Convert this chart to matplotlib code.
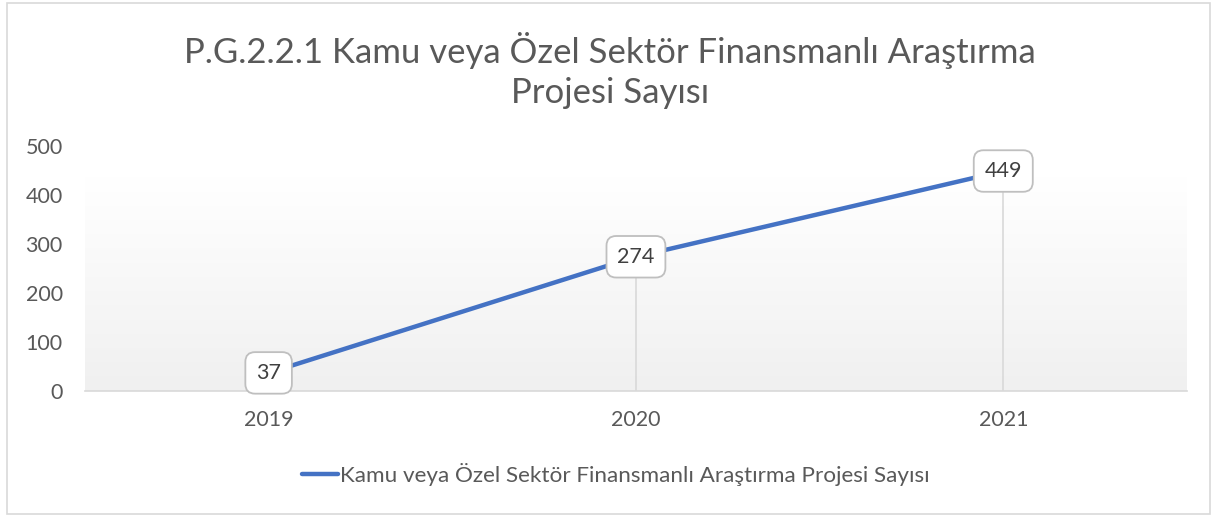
import numpy as np
import matplotlib.pyplot as plt
from matplotlib.colors import LinearSegmentedColormap
from matplotlib.patches import Rectangle

years = ["2019", "2020", "2021"]
values = [37, 274, 449]
y_ticks = [0, 100, 200, 300, 400, 500]
title = "P.G.2.2.1 Kamu veya Özel Sektör Finansmanlı Araştırma\nProjesi Sayısı"
series_name = "Kamu veya Özel Sektör Finansmanlı Araştırma Projesi Sayısı"

plt.rcParams['font.family'] = ['Lato', 'DejaVu Sans']
text_gray = '#595959'
line_blue = '#4472C4'

fig = plt.figure(figsize=(12.17, 5.16), dpi=100)
fig.patches.append(Rectangle((0.006, 0.004), 0.988, 0.99, transform=fig.transFigure,
                             fill=False, edgecolor='#d9d9d9', linewidth=1.2))

ax = fig.add_axes([0.0698, 0.2422, 0.9055, 0.4748])
x = np.arange(len(years))
ax.set_xlim(-0.5, len(years) - 0.5)
ax.set_ylim(0, 500)

# gradient background: light gray at the bottom fading to white at the top
grad = np.linspace(0.0, 1.0, 256).reshape(-1, 1)
cmap = LinearSegmentedColormap.from_list('g', ['#f0f0f0', '#ffffff'])
ax.imshow(grad, extent=(-0.5, len(years) - 0.5, 0, 435), aspect='auto',
          cmap=cmap, origin='lower', zorder=0)

# drop lines
ax.vlines(x, 0, values, color='#d9d9d9', linewidth=1.2, zorder=1)
ax.plot(x, values, color=line_blue, linewidth=3.2, solid_capstyle='round', zorder=2,
        label=series_name)

for xi, v in zip(x, values):
    ax.annotate(str(v), (xi, v), ha='center', va='center', fontsize=15.5, color='#404040',
                zorder=5,
                bbox=dict(boxstyle='round,pad=0.5,rounding_size=0.45', fc='white',
                          ec='#bfbfbf', lw=1.3))

ax.set_yticks(y_ticks)
ax.set_xticks(x)
ax.set_xticklabels(years)
ax.tick_params(axis='both', length=0, labelsize=15.5, colors=text_gray)
ax.tick_params(axis='y', pad=16)
ax.tick_params(axis='x', pad=14)
for s in ['top', 'right', 'left']:
    ax.spines[s].set_visible(False)
ax.spines['bottom'].set_color('#d9d9d9')
ax.spines['bottom'].set_linewidth(1.2)

fig.text(0.501, 0.863, title, ha='center', va='center', fontsize=25, color=text_gray,
         linespacing=1.32)

fig.legend(loc='center', bbox_to_anchor=(0.506, 0.081), frameon=False, fontsize=16.2,
           labelcolor=text_gray, handlelength=1.6, handletextpad=0.1)

fig.savefig('out.png', dpi=100)
